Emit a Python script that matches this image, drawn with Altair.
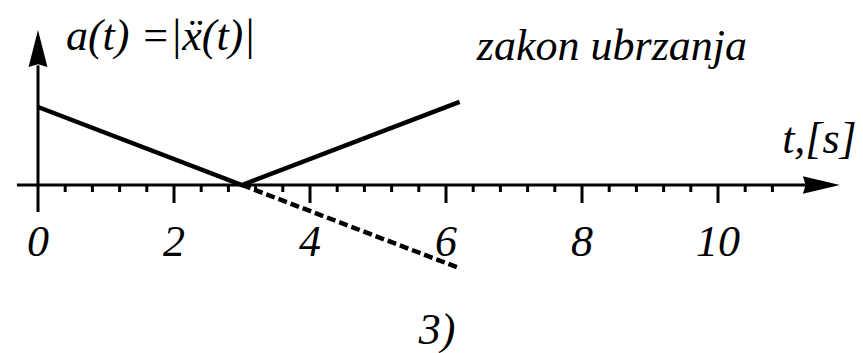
import altair as alt
import pandas as pd

# Acceleration law |a(t)|: falls linearly to zero at t = 3 s, then rises again;
# the dashed branch is the signed continuation below the time axis.
t_solid = [0.0, 3.0, 6.2]
a_solid = [3.0, 0.0, 3.2]
t_dashed = [3.0, 6.2]
a_dashed = [0.0, -3.2]

# Time axis graduation
major_ticks = [0, 2, 4, 6, 8, 10]
major_labels = ["0", "2", "4", "6", "8", "10"]
minor_ticks = [0.4, 0.8, 1.2, 1.6, 2.4, 2.8, 3.2, 3.6, 4.4, 4.8, 5.2, 5.6,
               6.4, 6.8, 7.2, 7.6, 8.4, 8.8, 9.2, 9.6, 10.4, 10.8]

# Annotation texts and their anchors (t, a); the second entry puts the
# double dot of the second derivative over the x of the first
note_texts = ["a(t) =|x(t)|", "\u00a8", "zakon ubrzanja", "t,[s]", "3)"]
note_t = [0.41, 2.28, 8.44, 12.04, 5.87]
note_a = [5.19, 5.19, 4.81, 1.23, -6.1]
note_align = ["left", "center", "center", "right", "center"]

# Scale extents (seconds, acceleration units)
T_DOMAIN = [-38 / 68, 825 / 68]
A_DOMAIN = [-168 / 26, 185 / 26]

# Axis geometry in data units
T_AXIS_START, T_AXIS_END = -0.31, 11.3
T_ARROW_CENTER = 11.52
A_AXIS_BOTTOM, A_AXIS_TOP = -1.04, 4.6
A_ARROW_CENTER = 5.25
MAJOR_TICK_LEN, MINOR_TICK_LEN = 0.69, 0.27
LABEL_A = -2.73

FONT = "Liberation Serif"
FONT_SIZE = 44
W, H = 863, 353

xs = alt.Scale(domain=T_DOMAIN, nice=False, zero=False)
ys = alt.Scale(domain=A_DOMAIN, nice=False, zero=False)


def X(field):
    return alt.X(field, type="quantitative", scale=xs, axis=None)


def Y(field):
    return alt.Y(field, type="quantitative", scale=ys, axis=None)


def text_layer(df, align, field):
    return alt.Chart(df).mark_text(
        font=FONT, fontStyle="italic", fontSize=FONT_SIZE, color="black",
        align=align, baseline="alphabetic",
    ).encode(x=X("t"), y=Y("a"), text=alt.Text(f"{field}:N"))


solid_df = pd.DataFrame({"t": t_solid, "a": a_solid})
dashed_df = pd.DataFrame({"t": t_dashed, "a": a_dashed})

solid = alt.Chart(solid_df).mark_line(color="black", strokeWidth=4.5).encode(
    x=X("t"), y=Y("a"))
dashed = alt.Chart(dashed_df).mark_line(
    color="black", strokeWidth=4.5, strokeDash=[9, 4]).encode(x=X("t"), y=Y("a"))

# Axis lines
axes_df = pd.DataFrame({
    "t": [T_AXIS_START, 0.0], "t2": [T_AXIS_END, 0.0],
    "a": [0.0, A_AXIS_BOTTOM], "a2": [0.0, A_AXIS_TOP],
})
axis_lines = alt.Chart(axes_df).mark_rule(color="black", strokeWidth=3).encode(
    x=X("t"), x2="t2", y=Y("a"), y2="a2")

# Arrowheads
x_arrow = alt.Chart(pd.DataFrame({"t": [T_ARROW_CENTER], "a": [0.0]})).mark_point(
    shape="M-1,-0.47 L1,0 L-1,0.47 L-0.85,0 Z", size=1369, filled=True,
    color="black", opacity=1).encode(x=X("t"), y=Y("a"))
y_arrow = alt.Chart(pd.DataFrame({"t": [0.0], "a": [A_ARROW_CENTER]})).mark_point(
    shape="M-0.51,1 L0,-1 L0.51,1 L0,0.85 Z", size=1369, filled=True,
    color="black", opacity=1).encode(x=X("t"), y=Y("a"))

# Ticks
major_df = pd.DataFrame({"t": [v for v in major_ticks if v != 0],
                         "a": 0.0, "a2": -MAJOR_TICK_LEN})
minor_df = pd.DataFrame({"t": minor_ticks, "a": 0.0, "a2": -MINOR_TICK_LEN})
major = alt.Chart(major_df).mark_rule(color="black", strokeWidth=3).encode(
    x=X("t"), y=Y("a"), y2="a2")
minor = alt.Chart(minor_df).mark_rule(color="black", strokeWidth=3).encode(
    x=X("t"), y=Y("a"), y2="a2")

labels_df = pd.DataFrame({"t": major_ticks, "a": LABEL_A, "label": major_labels})
tick_labels = text_layer(labels_df, "center", "label")

notes_df = pd.DataFrame({"t": note_t, "a": note_a, "note": note_texts,
                         "al": note_align})
notes = [
    text_layer(notes_df[notes_df["al"] == al], al, "note")
    for al in ["left", "right", "center"]
]

chart = alt.layer(
    axis_lines, major, minor, x_arrow, y_arrow, solid, dashed,
    tick_labels, *notes,
).properties(
    width=W, height=H,
    autosize=alt.AutoSizeParams(type="none"),
    padding=0,
    background="white",
).configure_view(stroke=None)

chart.save("out.html", embed_options={"renderer": "svg", "actions": False})
